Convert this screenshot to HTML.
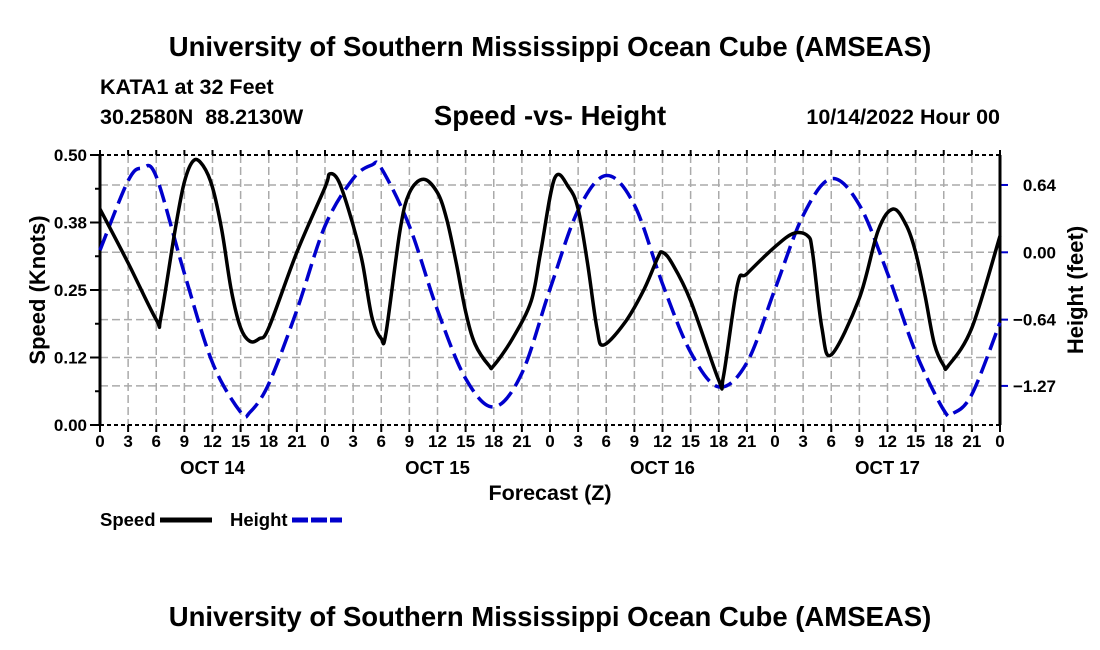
<!DOCTYPE html>
<html><head><meta charset="utf-8"><style>
body{margin:0;background:#fff;}
svg{display:block;font-family:"Liberation Sans",Arial,sans-serif;font-weight:bold;}
</style></head><body>
<svg id="chart" width="1100" height="650">
<text x="550" y="56" text-anchor="middle" font-size="27.5">University of Southern Mississippi Ocean Cube (AMSEAS)</text>
<text x="100" y="94" font-size="21.5">KATA1 at 32 Feet</text>
<text x="100" y="124" font-size="21.5" xml:space="preserve">30.2580N  88.2130W</text>
<text x="550" y="125" text-anchor="middle" font-size="27.5">Speed -vs- Height</text>
<text x="1000" y="124" text-anchor="end" font-size="21.5">10/14/2022 Hour 00</text>
<g id="grid"></g>
<g id="axes"></g>
<g id="series"></g>
<text x="550" y="500" text-anchor="middle" font-size="21.5">Forecast (Z)</text>
<text transform="translate(45,290) rotate(-90)" text-anchor="middle" font-size="22">Speed (Knots)</text>
<text transform="translate(1083,290) rotate(-90)" text-anchor="middle" font-size="22">Height (feet)</text>
<g>
<text x="100" y="526" font-size="18.5">Speed</text>
<line x1="160" y1="520" x2="212" y2="520" stroke="#000" stroke-width="5"/>
<text x="230" y="526" font-size="18.5">Height</text>
<line x1="292" y1="520" x2="342" y2="520" stroke="#0000cc" stroke-width="5" stroke-dasharray="16,3"/>
</g>
<text x="550" y="626" text-anchor="middle" font-size="27.5">University of Southern Mississippi Ocean Cube (AMSEAS)</text>
</svg>
<script>
const xTickLabels=[0,3,6,9,12,15,18,21,0,3,6,9,12,15,18,21,0,3,6,9,12,15,18,21,0,3,6,9,12,15,18,21,0];
const dayLabels=["OCT 14","OCT 15","OCT 16","OCT 17"];
const leftTicks=[0,0.125,0.25,0.375,0.5];
const leftTickLabels=["0.00","0.12","0.25","0.38","0.50"];
const rightTicks=[0.64,0,-0.64,-1.27];
const rightTickLabels=["0.64","0.00","\u22120.64","\u22121.27"];
const speedHours=[0,3,6,6.5,8,9,10,11,12,13,14,15,16,17,18,21,24,24.5,25.5,27,28,29,30,30.5,32,33,34.5,36,37,38,39,40,41.5,42,44,46,47,48.5,50,51,52,53,53.7,56,58,59.5,60,61,63,66,66.5,68,69,72,74,75.5,76,77,78,81,83,84.6,86,87,88,89,90,90.5,93,96];
const speedValues=[0.40,0.30,0.195,0.20,0.36,0.45,0.49,0.48,0.44,0.36,0.25,0.18,0.155,0.16,0.18,0.32,0.44,0.465,0.45,0.37,0.30,0.20,0.16,0.17,0.36,0.43,0.455,0.43,0.38,0.30,0.21,0.15,0.11,0.11,0.16,0.23,0.32,0.457,0.44,0.40,0.30,0.18,0.148,0.19,0.25,0.31,0.32,0.30,0.23,0.083,0.09,0.26,0.28,0.33,0.355,0.35,0.32,0.18,0.13,0.235,0.36,0.40,0.37,0.32,0.24,0.15,0.11,0.11,0.18,0.35];
const heightHours=[0,3,4.5,6,9,12,15,16,18,21,24,27,29,30,33,36,39,42,45,48,51,54,57,60,63,66,69,72,75,78,81,84,87,90,91,93,96];
const heightValues=[0.02,0.68,0.80,0.72,-0.20,-1.05,-1.52,-1.52,-1.25,-0.55,0.25,0.70,0.83,0.80,0.25,-0.55,-1.20,-1.47,-1.15,-0.35,0.40,0.73,0.45,-0.30,-0.95,-1.28,-1.05,-0.35,0.35,0.70,0.45,-0.20,-0.95,-1.50,-1.53,-1.35,-0.67];

const X0=100,X1=1000,YT=155,YB=425;
const xs=h=>X0+(X1-X0)*h/96;
const yl=v=>YB-(YB-YT)*v/0.5;
const yr=v=>252.3-105.2*v;
const NS="http://www.w3.org/2000/svg";
function mk(tag,parent,attrs){const e=document.createElementNS(NS,tag);for(const k in attrs)e.setAttribute(k,attrs[k]);parent.appendChild(e);return e;}
const grid=document.getElementById('grid'),axes=document.getElementById('axes'),series=document.getElementById('series');
xTickLabels.forEach((lab,i)=>{const x=xs(i*3);
 if(i>0&&i<xTickLabels.length-1){const l=mk('line',grid,{x1:x,x2:x,y1:YT,y2:YB,stroke:'#aaa','stroke-width':1.5,'stroke-dasharray':'8,4'});
 }
 mk('line',axes,{x1:x,x2:x,y1:YB,y2:YB+7,stroke:'#000','stroke-width':2});
 mk('line',axes,{x1:x,x2:x,y1:YT-5,y2:YT,stroke:'#000','stroke-width':2});
 const t=mk('text',axes,{x:x,y:YB+22,'text-anchor':'middle','font-size':17});t.textContent=lab;
 
});
dayLabels.forEach((d,i)=>{const t=mk('text',axes,{x:xs(12+24*i),y:YB+49,'text-anchor':'middle','font-size':18.5});t.textContent=d;
 });
leftTicks.forEach((v,i)=>{const y=yl(v);
 if(v>0&&v<0.5){const l=mk('line',grid,{x1:X0,x2:X1,y1:y,y2:y,stroke:'#aaa','stroke-width':1.5,'stroke-dasharray':'8,4'});
 }
 mk('line',axes,{x1:X0-10,x2:X0,y1:y,y2:y,stroke:'#000','stroke-width':2});
 const t=mk('text',axes,{x:X0-13,y:y+6,'text-anchor':'end','font-size':17});t.textContent=leftTickLabels[i];
 
});
for(let v=0.0625;v<0.5;v+=0.125){mk('line',axes,{x1:X0-5,x2:X0,y1:yl(v),y2:yl(v),stroke:'#000','stroke-width':2});}
rightTicks.forEach((v,i)=>{const y=yr(v);
 const l=mk('line',grid,{x1:X0,x2:X1,y1:y,y2:y,stroke:'#aaa','stroke-width':1.5,'stroke-dasharray':'8,4'});
 
 mk('line',axes,{x1:X1,x2:X1+8,y1:y,y2:y,stroke:'#0000cc','stroke-width':2});
 const t=mk('text',axes,{x:1056,y:y+6,'text-anchor':'end','font-size':17});t.textContent=rightTickLabels[i];
 
});
mk('line',axes,{x1:X0,x2:X1,y1:YT,y2:YT,stroke:'#000','stroke-width':2,'stroke-dasharray':'4,3'});
mk('line',axes,{x1:X0,x2:X1,y1:YB,y2:YB,stroke:'#000','stroke-width':2,'stroke-dasharray':'4,3'});
mk('line',axes,{x1:X0,x2:X0,y1:YT,y2:YB,stroke:'#000','stroke-width':3});
mk('line',axes,{x1:X1,x2:X1,y1:YT,y2:YB,stroke:'#000','stroke-width':3});
function spline(pts){let d=`M${pts[0][0]},${pts[0][1]}`;
 for(let i=0;i<pts.length-1;i++){const p0=pts[Math.max(0,i-1)],p1=pts[i],p2=pts[i+1],p3=pts[Math.min(pts.length-1,i+2)];
 const c1=[p1[0]+(p2[0]-p0[0])/6,p1[1]+(p2[1]-p0[1])/6],c2=[p2[0]-(p3[0]-p1[0])/6,p2[1]-(p3[1]-p1[1])/6];
 d+=` C${c1[0]},${c1[1]} ${c2[0]},${c2[1]} ${p2[0]},${p2[1]}`;}return d;}
const hp=mk('path',series,{d:spline(heightHours.map((h,i)=>[xs(h),yr(heightValues[i])])),fill:'none',stroke:'#0000cc','stroke-width':3.5,'stroke-dasharray':'18,7'});


const sp=mk('path',series,{d:spline(speedHours.map((h,i)=>[xs(h),yl(speedValues[i])])),fill:'none',stroke:'#000','stroke-width':3.5,'stroke-linejoin':'round'});


</script>
</body></html>
